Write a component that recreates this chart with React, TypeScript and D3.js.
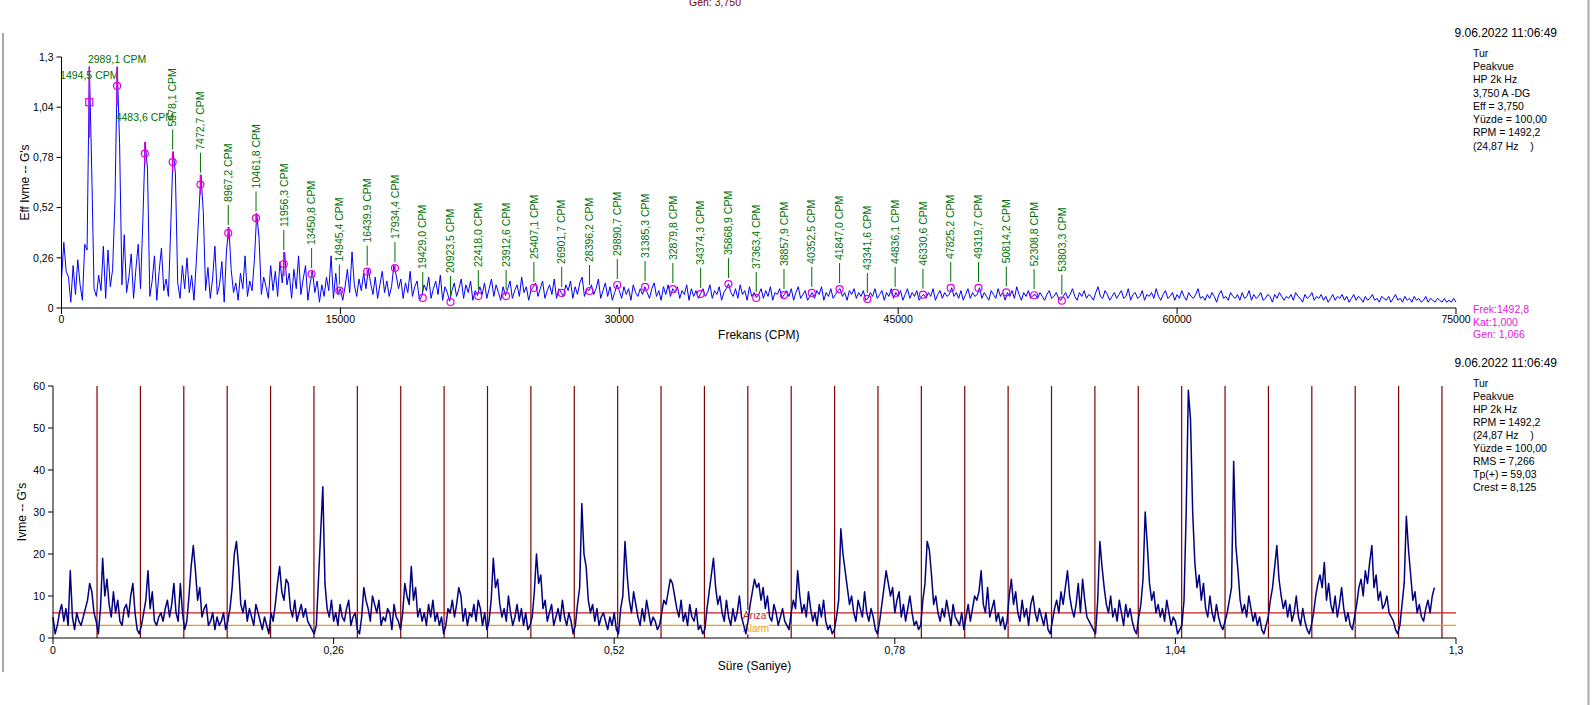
import React from 'react';
import * as d3 from 'd3';

// Spectrum amplitudes (G's), uniform steps from 0 to 75000 CPM
const spectrum = [
  0.15, 0.34, 0.19, 0.16, 0.03, 0.22, 0.07, 0.25, 0.12, 0.04, 0.33, 0.30,
  1.25, 0.72, 0.10, 0.06, 0.17, 0.09, 0.32, 0.05, 0.30, 0.11, 0.20, 0.55,
  1.25, 0.85, 0.12, 0.38, 0.08, 0.16, 0.28, 0.05, 0.20, 0.33, 0.10, 0.45,
  0.86, 0.72, 0.06, 0.14, 0.27, 0.04, 0.19, 0.31, 0.09, 0.15, 0.06, 0.42,
  0.81, 0.70, 0.13, 0.05, 0.22, 0.10, 0.26, 0.08, 0.17, 0.04, 0.24, 0.47,
  0.69, 0.50, 0.09, 0.21, 0.05, 0.15, 0.32, 0.07, 0.12, 0.24, 0.03, 0.30,
  0.42, 0.20, 0.08, 0.13, 0.04, 0.18, 0.10, 0.27, 0.06, 0.14, 0.09, 0.25,
  0.49, 0.36, 0.07, 0.16, 0.11, 0.05, 0.22, 0.09, 0.19, 0.06, 0.24, 0.13,
  0.29, 0.12, 0.18, 0.05, 0.20, 0.10, 0.27, 0.07, 0.15, 0.22, 0.04, 0.13,
  0.19, 0.08, 0.14, 0.03, 0.12, 0.06, 0.16, 0.09, 0.27, 0.05, 0.18, 0.07,
  0.10, 0.04, 0.11, 0.20, 0.08, 0.29, 0.12, 0.06, 0.15, 0.09, 0.18, 0.10,
  0.20, 0.13, 0.07, 0.16, 0.05, 0.12, 0.19, 0.08, 0.14, 0.06, 0.11, 0.22,
  0.17, 0.10, 0.15, 0.05, 0.13, 0.08, 0.19, 0.06, 0.11, 0.14, 0.04, 0.06,
  0.12, 0.09, 0.16, 0.05, 0.10, 0.14, 0.07, 0.17, 0.04, 0.11, 0.08, 0.035,
  0.09, 0.13, 0.06, 0.10, 0.15, 0.05, 0.12, 0.08, 0.14, 0.04, 0.09, 0.065,
  0.11, 0.07, 0.13, 0.05, 0.10, 0.15, 0.06, 0.12, 0.08, 0.04, 0.11, 0.065,
  0.10, 0.14, 0.05, 0.09, 0.12, 0.06, 0.16, 0.08, 0.11, 0.04, 0.09, 0.11,
  0.13, 0.06, 0.10, 0.14, 0.05, 0.09, 0.12, 0.07, 0.15, 0.05, 0.10, 0.08,
  0.06, 0.12, 0.09, 0.14, 0.05, 0.11, 0.07, 0.13, 0.16, 0.06, 0.10, 0.09,
  0.12, 0.07, 0.10, 0.15, 0.05, 0.09, 0.13, 0.06, 0.11, 0.04, 0.08, 0.12,
  0.09, 0.05, 0.11, 0.07, 0.10, 0.04, 0.12, 0.08, 0.06, 0.10, 0.07, 0.11,
  0.08, 0.05, 0.10, 0.13, 0.06, 0.09, 0.04, 0.11, 0.07, 0.12, 0.06, 0.10,
  0.08, 0.11, 0.05, 0.09, 0.07, 0.12, 0.04, 0.10, 0.06, 0.09, 0.05, 0.075,
  0.10, 0.06, 0.08, 0.12, 0.05, 0.09, 0.07, 0.11, 0.04, 0.08, 0.10, 0.125,
  0.08, 0.06, 0.10, 0.05, 0.12, 0.07, 0.09, 0.04, 0.11, 0.06, 0.08, 0.055,
  0.07, 0.10, 0.05, 0.09, 0.06, 0.11, 0.04, 0.08, 0.07, 0.10, 0.05, 0.07,
  0.09, 0.06, 0.10, 0.04, 0.08, 0.11, 0.05, 0.07, 0.09, 0.04, 0.06, 0.08,
  0.05, 0.09, 0.07, 0.11, 0.04, 0.08, 0.06, 0.10, 0.05, 0.07, 0.09, 0.10,
  0.06, 0.08, 0.04, 0.09, 0.07, 0.10, 0.05, 0.08, 0.06, 0.09, 0.04, 0.05,
  0.08, 0.06, 0.10, 0.05, 0.07, 0.09, 0.04, 0.08, 0.06, 0.10, 0.05, 0.08,
  0.06, 0.09, 0.04, 0.07, 0.10, 0.05, 0.08, 0.06, 0.09, 0.04, 0.06, 0.07,
  0.05, 0.08, 0.06, 0.10, 0.04, 0.07, 0.09, 0.05, 0.08, 0.06, 0.07, 0.105,
  0.06, 0.08, 0.05, 0.09, 0.04, 0.07, 0.10, 0.05, 0.08, 0.06, 0.07, 0.105,
  0.05, 0.08, 0.06, 0.04, 0.09, 0.07, 0.05, 0.10, 0.06, 0.08, 0.04, 0.08,
  0.06, 0.09, 0.05, 0.11, 0.07, 0.04, 0.08, 0.06, 0.09, 0.05, 0.065, 0.07,
  0.05, 0.08, 0.06, 0.04, 0.07, 0.09, 0.05, 0.06, 0.08, 0.05, 0.04, 0.06,
  0.08, 0.05, 0.07, 0.10, 0.06, 0.04, 0.08, 0.06, 0.09, 0.05, 0.07, 0.06,
  0.04, 0.08, 0.11, 0.06, 0.05, 0.09, 0.07, 0.04, 0.06, 0.08, 0.05, 0.07,
  0.09, 0.05, 0.06, 0.10, 0.04, 0.07, 0.08, 0.05, 0.06, 0.09, 0.04, 0.07,
  0.06, 0.08, 0.05, 0.10, 0.06, 0.04, 0.07, 0.09, 0.05, 0.06, 0.08, 0.04,
  0.07, 0.05, 0.09, 0.06, 0.04, 0.08, 0.06, 0.05, 0.07, 0.10, 0.05, 0.06,
  0.04, 0.07, 0.05, 0.08, 0.06, 0.03, 0.07, 0.09, 0.05, 0.06, 0.04, 0.08,
  0.06, 0.05, 0.07, 0.04, 0.08, 0.05, 0.06, 0.09, 0.04, 0.07, 0.05, 0.06,
  0.08, 0.04, 0.05, 0.07, 0.06, 0.03, 0.07, 0.05, 0.08, 0.06, 0.04, 0.06,
  0.05, 0.07, 0.04, 0.08, 0.06, 0.05, 0.03, 0.07, 0.05, 0.06, 0.08, 0.04,
  0.06, 0.05, 0.07, 0.04, 0.06, 0.03, 0.05, 0.07, 0.04, 0.06, 0.05, 0.07,
  0.04, 0.06, 0.03, 0.05, 0.07, 0.04, 0.06, 0.05, 0.03, 0.06, 0.04, 0.05,
  0.07, 0.04, 0.05, 0.03, 0.06, 0.05, 0.04, 0.06, 0.03, 0.05, 0.07, 0.04,
  0.05, 0.03, 0.06, 0.04, 0.05, 0.03, 0.06, 0.04, 0.05, 0.03, 0.04, 0.06,
  0.03, 0.05, 0.04, 0.03, 0.05, 0.04, 0.03, 0.05, 0.03, 0.04, 0.03, 0.05, 0.03,
];

// Harmonic markers: [frequency CPM, amplitude G's]
const markers: [number, number][] = [
  [1494.5, 1.066], [2989.1, 1.15], [4483.6, 0.8], [5978.1, 0.756], [7472.7, 0.639],
  [8967.2, 0.388], [10461.8, 0.466], [11956.3, 0.228], [13450.8, 0.176], [14945.4, 0.09],
  [16439.9, 0.188], [17934.4, 0.207], [19429.0, 0.052], [20923.5, 0.031], [22418.0, 0.062],
  [23912.6, 0.062], [25407.1, 0.104], [26901.7, 0.078], [28396.2, 0.088], [29890.7, 0.119],
  [31385.3, 0.109], [32879.8, 0.098], [34374.3, 0.073], [35868.9, 0.124], [37363.4, 0.052],
  [38857.9, 0.067], [40352.5, 0.078], [41847.0, 0.098], [43341.6, 0.047], [44836.1, 0.078],
  [46330.6, 0.069], [47825.2, 0.104], [49319.7, 0.104], [50814.2, 0.081], [52308.8, 0.066],
  [53803.3, 0.038],
];

// Time waveform (G's), one value every 0.002 s
const waveStep = 0.002;
const waveform = [
  5, 1, 3, 6, 8, 4, 7, 3, 16, 5, 2, 6, 4, 3, 5, 7, 9, 13, 11, 6,
  4, 1, 7, 19, 10, 14, 8, 5, 11, 6, 9, 4, 3, 7, 8, 5, 10, 13, 6, 2,
  1, 3, 6, 9, 16, 7, 11, 4, 3, 5, 6, 4, 7, 9, 5, 8, 13, 6, 4, 13,
  6, 2, 4, 10, 17, 22, 16, 9, 12, 5, 7, 8, 3, 4, 6, 2, 5, 3, 4, 6,
  2, 4, 7, 12, 20, 23, 17, 8, 6, 9, 4, 7, 5, 3, 8, 6, 4, 2, 5, 3,
  1, 6, 4, 8, 13, 17, 11, 9, 14, 13, 7, 5, 9, 4, 6, 8, 5, 7, 4, 3,
  2, 1, 3, 14, 25, 36, 13, 7, 5, 9, 4, 6, 3, 8, 5, 4, 7, 9, 3, 5,
  6, 2, 1, 5, 12, 9, 7, 4, 10, 8, 6, 9, 3, 5, 4, 7, 6, 2, 8, 5,
  4, 2, 6, 13, 10, 8, 17, 9, 12, 5, 7, 4, 6, 3, 8, 5, 9, 4, 6, 3,
  5, 1, 3, 7, 6, 9, 5, 8, 12, 10, 4, 7, 3, 6, 5, 8, 4, 9, 7, 3,
  6, 2, 4, 9, 19, 12, 14, 8, 5, 7, 4, 10, 6, 3, 5, 8, 4, 7, 3, 6,
  2, 3, 5, 11, 20, 13, 15, 7, 9, 4, 6, 8, 3, 5, 7, 4, 9, 5, 3, 6,
  4, 1, 3, 8, 12, 32, 20, 17, 9, 6, 8, 4, 7, 3, 5, 6, 4, 2, 5, 3,
  6, 2, 1, 7, 10, 23, 15, 9, 6, 11, 8, 5, 3, 7, 4, 9, 6, 3, 5, 4,
  2, 3, 6, 9, 8, 11, 14, 13, 10, 7, 5, 9, 4, 6, 3, 8, 5, 4, 7, 2,
  3, 1, 2, 7, 11, 15, 19, 12, 8, 10, 6, 4, 9, 5, 3, 7, 4, 6, 10, 5,
  3, 1, 4, 8, 11, 14, 12, 13, 9, 12, 7, 10, 5, 4, 8, 6, 3, 5, 7, 4,
  3, 2, 6, 9, 7, 16, 10, 6, 8, 5, 11, 7, 4, 6, 3, 8, 5, 9, 4, 2,
  3, 1, 2, 5, 9, 26, 20, 16, 12, 8, 10, 6, 4, 9, 7, 5, 11, 6, 4, 7,
  5, 2, 1, 4, 8, 12, 16, 13, 10, 12, 6, 9, 11, 5, 8, 4, 7, 10, 6, 3,
  4, 2, 3, 9, 13, 23, 21, 15, 8, 10, 6, 4, 7, 5, 9, 6, 3, 8, 5, 4,
  3, 6, 2, 5, 8, 4, 7, 10, 9, 11, 16, 8, 6, 12, 5, 7, 9, 4, 6, 3,
  5, 2, 4, 10, 14, 8, 11, 6, 4, 9, 5, 7, 3, 8, 10, 6, 4, 7, 5, 3,
  6, 2, 1, 4, 7, 9, 6, 11, 8, 12, 16, 10, 7, 5, 8, 13, 6, 14, 9, 5,
  4, 3, 2, 1, 9, 23, 17, 12, 8, 6, 10, 5, 7, 4, 9, 6, 3, 8, 5, 7,
  4, 2, 1, 5, 8, 14, 30, 22, 13, 9, 11, 6, 8, 5, 7, 4, 9, 6, 3, 5,
  4, 1, 2, 3, 9, 30, 59, 52, 30, 18, 12, 15, 9, 13, 7, 5, 10, 6, 4, 8,
  5, 3, 2, 4, 6, 9, 12, 42, 22, 16, 9, 6, 8, 5, 10, 7, 4, 6, 3, 5,
  2, 1, 3, 5, 9, 12, 17, 22, 14, 10, 7, 9, 5, 8, 4, 6, 10, 5, 3, 7,
  4, 2, 1, 3, 6, 10, 13, 15, 12, 18, 9, 13, 8, 6, 10, 5, 8, 12, 7, 4,
  6, 3, 2, 5, 8, 12, 14, 10, 16, 13, 18, 22, 12, 15, 9, 11, 7, 8, 10, 6,
  5, 4, 2, 1, 3, 8, 13, 29, 21, 15, 9, 11, 6, 8, 5, 4, 7, 9, 6, 10,
  12,
];

// Once-per-revolution tachometer marks (s)
const revMarks = [
  0.0408, 0.0810, 0.1212, 0.1614, 0.2016, 0.2418, 0.2820, 0.3222, 0.3624, 0.4026,
  0.4428, 0.4830, 0.5232, 0.5634, 0.6036, 0.6438, 0.6840, 0.7242, 0.7644, 0.8046,
  0.8448, 0.8850, 0.9252, 0.9654, 1.0056, 1.0458, 1.0860, 1.1262, 1.1664, 1.2066,
  1.2468, 1.2870,
];

const faultLevel = 6;
const alarmLevel = 3;

const freqTicks = [0, 15000, 30000, 45000, 60000, 75000];
const ampTicks = [0, 0.26, 0.52, 0.78, 1.04, 1.3];
const timeTicks = [0, 0.26, 0.52, 0.78, 1.04, 1.3];
const gTicks = [0, 10, 20, 30, 40, 50, 60];

const dateText = '9.06.2022 11:06:49';
const topInfo = ['Tur', 'Peakvue', 'HP 2k Hz', '3,750 A -DG', 'Eff = 3,750', 'Yüzde = 100,00', 'RPM = 1492,2', '(24,87 Hz    )'];
const cursorInfo = ['Frek:1492,8', 'Kat:1,000', 'Gen: 1,066'];
const bottomInfo = ['Tur', 'Peakvue', 'HP 2k Hz', 'RPM = 1492,2', '(24,87 Hz    )', 'Yüzde = 100,00', 'RMS = 7,266', 'Tp(+) = 59,03', 'Crest = 8,125'];

const FONT = '"Liberation Sans", Arial, sans-serif';
const comma = (v: number | string) => String(v).replace('.', ',');

export default function App() {
  const W = 1593;
  const H = 705;

  const fx = d3.scaleLinear().domain([0, 75000]).range([61.5, 1456]);
  const fy = d3.scaleLinear().domain([0, 1.3]).range([308, 57]);
  const tx = d3.scaleLinear().domain([0, 1.3]).range([53, 1456]);
  const ty = d3.scaleLinear().domain([0, 60]).range([638, 386]);

  const fStep = 75000 / (spectrum.length - 1);
  const specLine = d3.line<number>().x((_, i) => fx(i * fStep)).y((d) => fy(d));
  const waveLine = d3.line<number>().x((_, i) => tx(i * waveStep)).y((d) => ty(d));

  // marker label layout
  const plotTop = fy(1.3);
  const labels = markers.map(([f, a], i) => {
    const bin = Math.round(f / fStep);
    const top = Math.max(spectrum[bin], a);
    const stemBottom = Math.min(fy(a) - 6, fy(top) - 2);
    const text = `${comma(f.toFixed(1))} CPM`;
    const len = text.length * 5.85;
    const horizontal = stemBottom - 23 - len < plotTop + 5;
    return { i, f, a, top, stemBottom, text, len, horizontal, cy: 0 };
  });
  const placed: typeof labels = [];
  [...labels].filter((l) => l.horizontal).sort((p, q) => q.a - p.a).forEach((l) => {
    let cy = Math.max(fy(l.top) - 25, plotTop + 2);
    let moved = true;
    while (moved) {
      moved = false;
      for (const p of placed) {
        const overlapX = Math.abs(fx(p.f) - fx(l.f)) < (p.len + l.len) / 2;
        if (overlapX && Math.abs(p.cy - cy) < 12) { cy = p.cy + 16; moved = true; }
      }
    }
    l.cy = cy;
    placed.push(l);
  });

  const infoLines = (lines: string[], y0: number, gap: number, color = '#000') =>
    lines.map((s, i) => (
      <text key={s + i} x={1473} y={y0 + i * gap + 3.7} fontSize={10.5} fill={color} style={{ whiteSpace: 'pre' }}>{s}</text>
    ));

  return (
    <svg width={W} height={H} style={{ position: 'absolute', left: 0, top: 0, background: '#fff' }} fontFamily={FONT}>
      <rect width={W} height={H} fill="#fff" />
      <line x1={3} x2={3} y1={33} y2={672} stroke="#a8a8a8" strokeWidth={2} />
      <line x1={1588.5} x2={1588.5} y1={0} y2={H} stroke="#a8a8a8" strokeWidth={2} />

      <text x={715} y={6} textAnchor="middle" fontSize={10.5} fill="#800000">Gen: 3,750</text>

      {/* ---------- spectrum ---------- */}
      <text x={1557} y={33 + 4.2} textAnchor="end" fontSize={12} fill="#000">{dateText}</text>
      {infoLines(topInfo, 53.3, 13.24)}
      {infoLines(cursorInfo, 309.3, 12.7, '#e020e0')}

      <path d={specLine(spectrum) || ''} fill="none" stroke="#0000ff" strokeWidth={1} />

      {labels.map((l) => {
        const x = fx(l.f);
        const lower = 2 * l.a - l.top;
        return (
          <g key={l.i}>
            {l.top > l.a + 0.01 && (
              <line x1={x} x2={x} y1={fy(l.top)} y2={fy(lower)} stroke="#e000e0" strokeWidth={1.5} />
            )}
            {l.i === 0 ? (
              <rect x={x - 3.5} y={fy(l.a) - 3.5} width={7} height={7} fill="none" stroke="#e000e0" strokeWidth={1.2} />
            ) : (
              <circle cx={x} cy={fy(l.a)} r={3.5} fill="none" stroke="#e000e0" strokeWidth={1.2} />
            )}
            {l.horizontal ? (
              <text x={x} y={l.cy + 3.7} textAnchor="middle" fontSize={10.5} fill="#007000">{l.text}</text>
            ) : (
              <>
                <line x1={x} x2={x} y1={l.stemBottom} y2={l.stemBottom - 20} stroke="#007000" strokeWidth={1} />
                <text transform={`translate(${x + 3.7},${l.stemBottom - 23}) rotate(-90)`} fontSize={10.5} fill="#007000">{l.text}</text>
              </>
            )}
          </g>
        );
      })}

      {/* spectrum axes */}
      <line x1={fx(0)} x2={fx(0)} y1={fy(0)} y2={fy(1.3)} stroke="#000" />
      <line x1={fx(0)} x2={fx(75000)} y1={fy(0)} y2={fy(0)} stroke="#000" />
      {ampTicks.map((v) => (
        <g key={'a' + v}>
          <line x1={fx(0) - 5} x2={fx(0)} y1={fy(v)} y2={fy(v)} stroke="#000" />
          <text x={fx(0) - 8} y={fy(v) + 3.7} textAnchor="end" fontSize={10.5} fill="#000">{comma(v)}</text>
        </g>
      ))}
      {freqTicks.map((v) => (
        <g key={'f' + v}>
          <line x1={fx(v)} x2={fx(v)} y1={fy(0)} y2={fy(0) + 6} stroke="#000" />
          <text x={fx(v)} y={fy(0) + 15} textAnchor="middle" fontSize={10.5} fill="#000">{v}</text>
        </g>
      ))}
      <text x={(fx(0) + fx(75000)) / 2} y={339} textAnchor="middle" fontSize={12} fill="#000">Frekans (CPM)</text>
      <text transform={`translate(${29},${(fy(0) + fy(1.3)) / 2}) rotate(-90)`} textAnchor="middle" fontSize={12} fill="#000">Eff Ivme -- G's</text>

      {/* ---------- waveform ---------- */}
      <text x={1557} y={362.7 + 4.2} textAnchor="end" fontSize={12} fill="#000">{dateText}</text>
      {infoLines(bottomInfo, 383.3, 13.04)}

      {revMarks.map((t) => (
        <line key={'r' + t} x1={tx(t)} x2={tx(t)} y1={ty(60)} y2={ty(0)} stroke="#800000" strokeWidth={1.2} />
      ))}
      <line x1={tx(0)} x2={tx(1.3)} y1={ty(faultLevel)} y2={ty(faultLevel)} stroke="#d01818" strokeWidth={1.2} />
      <line x1={tx(0)} x2={tx(1.3)} y1={ty(alarmLevel)} y2={ty(alarmLevel)} stroke="#e8a010" strokeWidth={1.2} />
      <rect x={742} y={ty(faultLevel) - 3} width={24} height={12} fill="#fff" />
      <rect x={742} y={ty(alarmLevel) - 3} width={27} height={12} fill="#fff" />
      <text x={743} y={ty(faultLevel) + 6.5} fontSize={10} fill="#d01818">Arıza</text>
      <text x={743} y={ty(alarmLevel) + 6.5} fontSize={10} fill="#e8a010">Alarm</text>

      <path d={waveLine(waveform) || ''} fill="none" stroke="#000080" strokeWidth={1.5} strokeLinejoin="round" />

      <line x1={tx(0)} x2={tx(0)} y1={ty(0)} y2={ty(60)} stroke="#000" />
      <line x1={tx(0)} x2={tx(1.3)} y1={ty(0)} y2={ty(0)} stroke="#000" />
      {gTicks.map((v) => (
        <g key={'g' + v}>
          <line x1={tx(0) - 5} x2={tx(0)} y1={ty(v)} y2={ty(v)} stroke="#000" />
          <text x={tx(0) - 8} y={ty(v) + 3.7} textAnchor="end" fontSize={10.5} fill="#000">{v}</text>
        </g>
      ))}
      {timeTicks.map((v) => (
        <g key={'t' + v}>
          <line x1={tx(v)} x2={tx(v)} y1={ty(0)} y2={ty(0) + 6} stroke="#000" />
          <text x={tx(v)} y={ty(0) + 15.5} textAnchor="middle" fontSize={10.5} fill="#000">{comma(v)}</text>
        </g>
      ))}
      <text x={(tx(0) + tx(1.3)) / 2} y={670} textAnchor="middle" fontSize={12} fill="#000">Süre (Saniye)</text>
      <text transform={`translate(${26},${(ty(0) + ty(60)) / 2}) rotate(-90)`} textAnchor="middle" fontSize={12} fill="#000">Ivme -- G's</text>
    </svg>
  );
}
